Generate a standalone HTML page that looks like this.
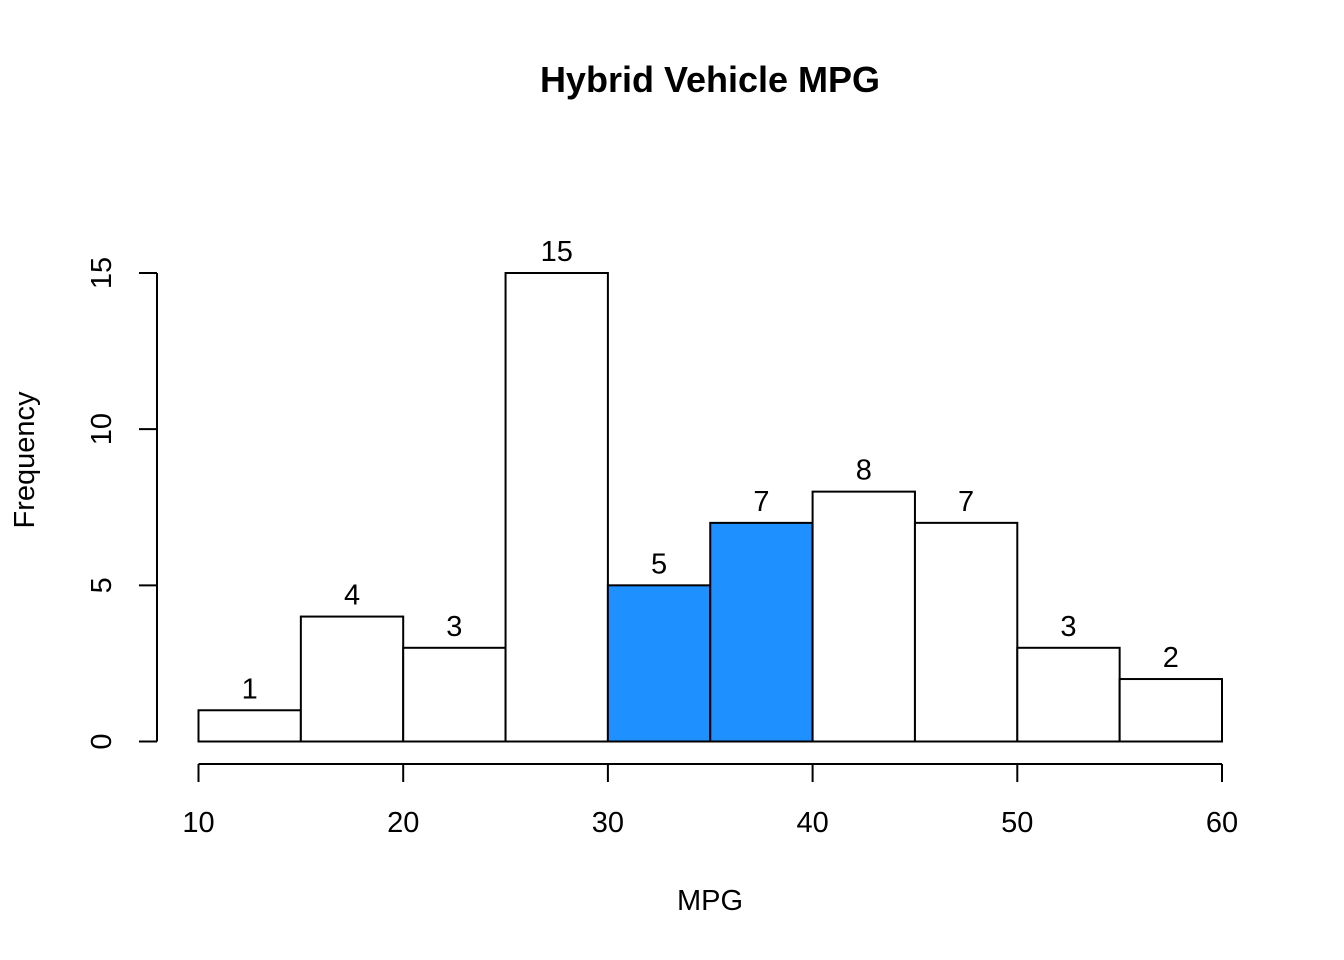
<!DOCTYPE html>
<html><head><meta charset="utf-8"><style>
html,body{margin:0;padding:0;background:#fff}
svg{display:block;font-family:"Liberation Sans",sans-serif}
</style></head><body>
<svg id="chart" width="1344" height="960">
<text x="710" y="92" text-anchor="middle" font-size="36" font-weight="bold">Hybrid Vehicle MPG</text>
<text x="710" y="910" text-anchor="middle" font-size="29">MPG</text>
<text transform="translate(34,460) rotate(-90)" text-anchor="middle" font-size="29">Frequency</text>
<g id="bars"></g><g id="xaxis"></g><g id="yaxis"></g>
</svg>
<script>
const binStarts = [10,15,20,25,30,35,40,45,50,55];
const counts = [1,4,3,15,5,7,8,7,3,2];
const highlighted = [false,false,false,false,true,true,false,false,false,false];
const xTicks = [10,20,30,40,50,60];
const yTicks = [0,5,10,15];
const binWidth = 5;
const NS="http://www.w3.org/2000/svg";
const sx=v=>198.5+(v-10)*(1222-198.5)/50;
const sy=v=>741.5-v*(741.5-273)/15;
function mk(tag,attrs,parent){const e=document.createElementNS(NS,tag);for(const k in attrs)e.setAttribute(k,attrs[k]);parent.appendChild(e);return e;}
const bars=document.getElementById('bars');
binStarts.forEach((b,i)=>{
  const r=mk('rect',{x:sx(b),y:sy(counts[i]),width:sx(b+binWidth)-sx(b),height:sy(0)-sy(counts[i]),fill:highlighted[i]?'#1E90FF':'#fff',stroke:'#000','stroke-width':2},bars);
  
  
  const t=mk('text',{x:(sx(b)+sx(b+binWidth))/2,y:sy(counts[i])-12,'text-anchor':'middle','font-size':29},bars);
  t.textContent=counts[i];
  
  
});
const xa=document.getElementById('xaxis');
const xl=mk('line',{x1:sx(xTicks[0]),x2:sx(xTicks[xTicks.length-1]),y1:764,y2:764,stroke:'#000','stroke-width':2},xa);


xTicks.forEach(v=>{
  mk('line',{x1:sx(v),x2:sx(v),y1:764,y2:782,stroke:'#000','stroke-width':2},xa);
  const t=mk('text',{x:sx(v),y:832,'text-anchor':'middle','font-size':29},xa);
  t.textContent=v;
  
  
});
const ya=document.getElementById('yaxis');
const yl=mk('line',{x1:157,x2:157,y1:sy(yTicks[0]),y2:sy(yTicks[yTicks.length-1]),stroke:'#000','stroke-width':2},ya);


yTicks.forEach(v=>{
  mk('line',{x1:139,x2:157,y1:sy(v),y2:sy(v),stroke:'#000','stroke-width':2},ya);
  const t=mk('text',{transform:'translate(111,'+sy(v)+') rotate(-90)','text-anchor':'middle','font-size':29},ya);
  t.textContent=v;
  
  
});
</script>
</body></html>
